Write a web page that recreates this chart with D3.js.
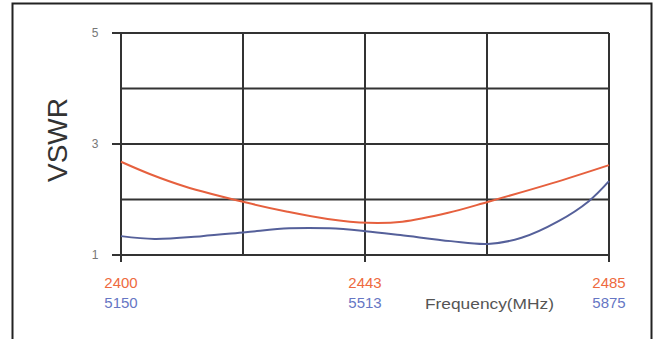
<!DOCTYPE html>
<html>
  <head>
    <meta charset="UTF-8">
    <title>VSWR</title>
    <style>
body{
    margin: 0;
    background: #fff;
}
svg{
    display: block;
    font-family: "Liberation Sans", Arial, sans-serif;
}
    </style>
  </head>
  <body>
    <script src="https://cdn.jsdelivr.net/npm/d3@7/dist/d3.min.js"></script>
    <script>
// 2.4GHz band (red) and 5GHz band (blue)
var redFreq = [2400, 2405, 2411, 2422, 2429, 2436, 2443, 2449, 2457, 2464, 2475, 2485];
var redVswr = [2.68, 2.46, 2.24, 1.94, 1.78, 1.65, 1.58, 1.60, 1.76, 1.96, 2.29, 2.62];
var blueFreq = [5150, 5200, 5270, 5335, 5400, 5460, 5513, 5565, 5640, 5695, 5745, 5800, 5845, 5875];
var blueVswr = [1.34, 1.29, 1.34, 1.41, 1.48, 1.48, 1.43, 1.36, 1.25, 1.20, 1.31, 1.61, 1.97, 2.33];
var redRange = [2400, 2485];
var blueRange = [5150, 5875];
var yTicks = [1, 3, 5];
var xLabelIndex = [0, 2, 4];

var width = 654, height = 339;
var pLeft = 121, pRight = 609, pTop = 33, pBottom = 255;

var svg = d3.select("body").append("svg")
            .attr("width", width)
            .attr("height", height);

// outer frame
svg.append("path")
   .attr("d", "M12.5," + height + "V3.5H651.5V" + height)
   .attr("fill", "none")
   .attr("stroke", "#222")
   .attr("stroke-width", 2);

var xRed = d3.scaleLinear().domain(redRange).range([pLeft, pRight]);
var xBlue = d3.scaleLinear().domain(blueRange).range([pLeft, pRight]);
var y = d3.scaleLinear().domain([1, 5]).range([pBottom, pTop]);

var redGrid = d3.range(5).map(function(i){ return redRange[0] + i * (redRange[1] - redRange[0]) / 4; });
var blueGrid = d3.range(5).map(function(i){ return blueRange[0] + i * (blueRange[1] - blueRange[0]) / 4; });

// grid
var grid = svg.append("g").attr("stroke", "#333").attr("stroke-width", 2);
grid.selectAll("line.h")
    .data(d3.range(1, 6))
    .enter().append("line")
    .attr("class", "h")
    .attr("x1", function(d){ return yTicks.indexOf(d) >= 0 ? pLeft - 9 : pLeft; })
    .attr("x2", pRight)
    .attr("y1", function(d){ return y(d); })
    .attr("y2", function(d){ return y(d); });
grid.selectAll("line.v")
    .data(redGrid)
    .enter().append("line")
    .attr("class", "v")
    .attr("x1", function(d){ return xRed(d); })
    .attr("x2", function(d){ return xRed(d); })
    .attr("y1", pTop)
    .attr("y2", function(d, i){ return xLabelIndex.indexOf(i) >= 0 ? pBottom + 7 : pBottom; });

// y labels
svg.selectAll("text.ytick")
   .data(yTicks)
   .enter().append("text")
   .attr("class", "ytick")
   .attr("x", 95)
   .attr("y", function(d){ return y(d) + 4; })
   .attr("text-anchor", "middle")
   .attr("font-size", 12)
   .attr("fill", "#777")
   .text(function(d){ return d; });

svg.append("text")
   .attr("transform", "translate(67,140) rotate(-90)")
   .attr("text-anchor", "middle")
   .attr("font-size", 28)
   .attr("fill", "#333")
   .text("VSWR");

// x labels, two rows
svg.selectAll("text.xred")
   .data(xLabelIndex)
   .enter().append("text")
   .attr("class", "xred")
   .attr("x", function(i){ return xRed(redGrid[i]); })
   .attr("y", 288)
   .attr("text-anchor", "middle")
   .attr("font-size", 15)
   .attr("fill", "#ee6a3e")
   .text(function(i){ return Math.round(redGrid[i]); });
svg.selectAll("text.xblue")
   .data(xLabelIndex)
   .enter().append("text")
   .attr("class", "xblue")
   .attr("x", function(i){ return xBlue(blueGrid[i]); })
   .attr("y", 308)
   .attr("text-anchor", "middle")
   .attr("font-size", 15)
   .attr("fill", "#6676c4")
   .text(function(i){ return Math.round(blueGrid[i]); });

svg.append("text")
   .attr("x", 425)
   .attr("y", 309)
   .attr("font-size", 15)
   .attr("textLength", 129)
   .attr("lengthAdjust", "spacingAndGlyphs")
   .attr("fill", "#555")
   .text("Frequency(MHz)");

// curves
var redLine = d3.line()
                .x(function(d, i){ return xRed(redFreq[i]); })
                .y(function(d){ return y(d); })
                .curve(d3.curveCatmullRom);
var blueLine = d3.line()
                 .x(function(d, i){ return xBlue(blueFreq[i]); })
                 .y(function(d){ return y(d); })
                 .curve(d3.curveCatmullRom);

svg.append("path")
   .attr("d", blueLine(blueVswr))
   .attr("fill", "none")
   .attr("stroke", "#55609a")
   .attr("stroke-width", 2);
svg.append("path")
   .attr("d", redLine(redVswr))
   .attr("fill", "none")
   .attr("stroke", "#e6603e")
   .attr("stroke-width", 2);
    </script>
  </body>
</html>
